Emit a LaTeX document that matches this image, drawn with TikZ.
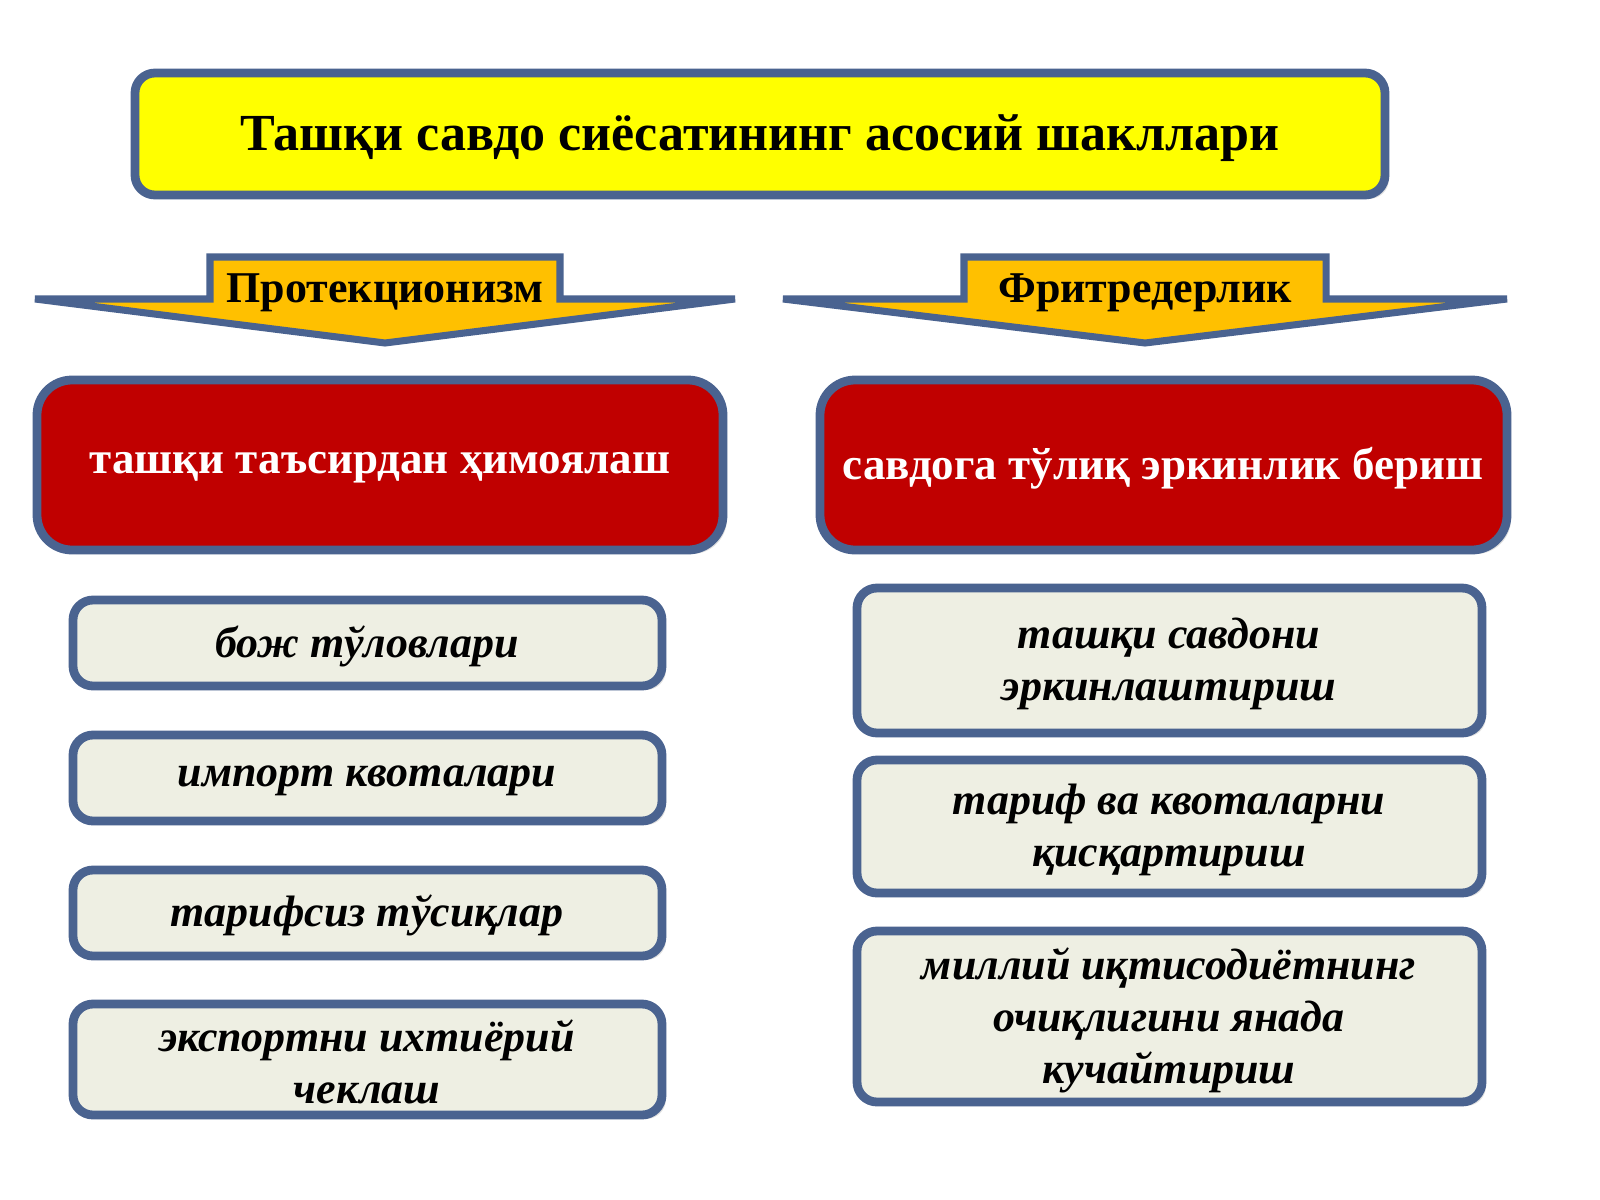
\documentclass[tikz,border=0pt]{standalone}
\usepackage{fontspec}
\setmainfont{Liberation Serif}
\usetikzlibrary{shadows}
\definecolor{edge}{HTML}{4A6390}
\definecolor{tyellow}{HTML}{FFFF00}
\definecolor{banner}{HTML}{FFC000}
\definecolor{dred}{HTML}{C00000}
\definecolor{lbox}{HTML}{EEEFE3}
\tikzset{
 px/.style={x=0.01cm,y=-0.01cm},
 base/.style={draw=edge,line width=2.5pt,rounded corners=0.2cm,drop shadow={opacity=0.25,shadow xshift=0.04cm,shadow yshift=-0.04cm}},
 titlebox/.style={base,fill=tyellow},
 redbox/.style={base,fill=dred,rounded corners=0.35cm},
 itembox/.style={base,fill=lbox},
 bannershape/.style={draw=edge,line width=2pt,fill=banner,line join=miter},
 ttext/.style={font=\bfseries\fontsize{14.8pt}{17pt}\selectfont},
 rtext/.style={font=\bfseries\fontsize{12.8pt}{15pt}\selectfont,text=white},
 btext/.style={font=\bfseries\fontsize{12.5pt}{15pt}\selectfont},
 itext/.style={font=\bfseries\itshape\fontsize{12.5pt}{14.8pt}\selectfont,align=center},
}
\begin{document}
\begin{tikzpicture}[px]
\useasboundingbox (0,0) rectangle (1600,1200);
\fill[white] (0,0) rectangle (1600,1200);
\draw[titlebox] (135,73) rectangle (1385,195);
\node[ttext] (title) at (760,138) {Ташқи савдо сиёсатининг асосий шакллари};
\draw[bannershape] (35,299)--(210,299)--(210,257)--(560,257)--(560,299)--(735,299)--(385,343)--cycle;
\node[btext] (b1) at (385,293) {Протекционизм};
\draw[bannershape] (783,299)--(964,299)--(964,257)--(1326,257)--(1326,299)--(1507,299)--(1145,343)--cycle;
\node[btext] (b2) at (1145,293) {Фритредерлик};
\draw[redbox] (37,380) rectangle (723,550);
\node[rtext] (r1) at (380,468) {ташқи таъсирдан ҳимоялаш};
\draw[redbox] (820,380) rectangle (1507,550);
\node[rtext] (r2) at (1163,468) {савдога тўлиқ эркинлик бериш};
\draw[itembox] (73,600) rectangle (662,686);
\node[itext] (l1) at (367,646) {бож тўловлари};
\draw[itembox] (73,735) rectangle (662,821);
\node[itext] (l2) at (367,781) {импорт квоталари};
\draw[itembox] (73,870) rectangle (662,956);
\node[itext] (l3) at (367,915) {тарифсиз тўсиқлар};
\draw[itembox] (73,1004) rectangle (662,1115);
\node[itext] (l4) at (367,1062) {экспортни ихтиёрий\\чеклаш};
\draw[itembox] (857,588) rectangle (1482,733);
\node[itext] (q1) at (1169,664) {ташқи савдони\\эркинлаштириш};
\draw[itembox] (857,760) rectangle (1482,893);
\node[itext] (q2) at (1169,830) {тариф ва квоталарни\\қисқартириш};
\draw[itembox] (857,931) rectangle (1482,1102);
\node[itext] (q3) at (1169,1020) {миллий иқтисодиётнинг\\очиқлигини янада\\кучайтириш};
\end{tikzpicture}
\end{document}
